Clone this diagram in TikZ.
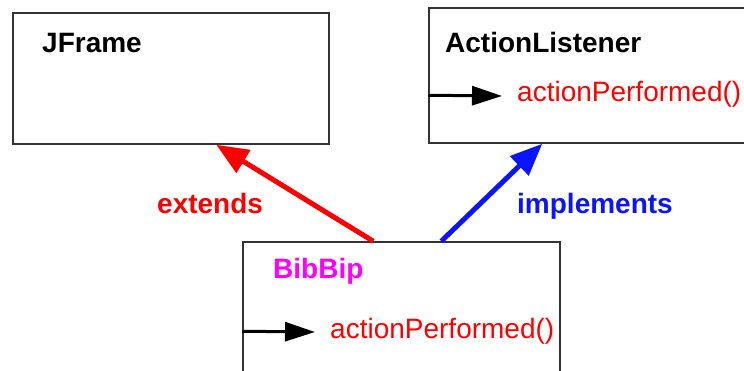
\documentclass[tikz,border=0pt]{standalone}
\usepackage{fontspec}
\setmainfont{Liberation Sans}
\usetikzlibrary{arrows.meta,calc}
\definecolor{relred}{RGB}{255,0,0}
\definecolor{relblue}{RGB}{10,20,255}
\definecolor{classpink}{RGB}{255,0,255}
\begin{document}
\begin{tikzpicture}[x=1pt,y=-1pt,
  box/.style={draw=black!80,line width=1.5pt,rectangle,inner sep=0pt},
  title/.style={anchor=base west,inner sep=0pt,font=\fontsize{28}{32}\selectfont\bfseries},
  method/.style={anchor=base west,inner sep=0pt,text=relred,font=\fontsize{28}{32}\selectfont},
  call/.style={line width=3pt,-{Triangle[length=30pt,width=19pt]}},
  rel/.style={line width=5pt,-{Triangle[length=32pt,width=26pt]}}]
  \useasboundingbox (0,0) rectangle (744,370);
  \clip (0,0) rectangle (744,370);

  % classes
  \node[box,minimum width=316pt,minimum height=131pt] (jframe) at (171,78.5) {};
  \node[box,minimum width=331pt,minimum height=135pt] (al)     at (594.5,75.5) {};
  \node[box,minimum width=317pt,minimum height=160pt] (bib)    at (401.5,322) {};

  \node[title] (jframet) at (42,52)  {JFrame};
  \node[title] (alt)     at (445,52) {ActionListener};
  \node[title,text=classpink] (bibt) at (273,278) {BibBip};

  \node[method] (alm)  at (517,101) {actionPerformed()};
  \node[method] (bibm) at (330,338) {actionPerformed()};

  % calls into the methods
  \coordinate (al call)  at ($(al.north west)+(0,88)$);
  \coordinate (bib call) at ($(bib.north west)+(0,90)$);
  \draw[call] (al call)  -- ($(alm.base west)+(-15,-5)$);
  \draw[call] (bib call) -- ($(bibm.base west)+(-15,-6)$);

  % relations
  \coordinate (ext from) at ($(bib.north west)+(131,0)$);
  \coordinate (ext to)   at ($(jframe.south west)+(204,0)$);
  \coordinate (imp from) at ($(bib.north west)+(199,0)$);
  \coordinate (imp to)   at ($(al.south west)+(114,0)$);
  \draw[rel,relred]  (ext from) -- (ext to);
  \draw[rel,relblue] (imp from) -- (imp to);

  \node[title,text=relred]  (extl) at (157,213) {extends};
  \node[title,text=relblue] (impl) at (517,213) {implements};
\end{tikzpicture}
\end{document}
